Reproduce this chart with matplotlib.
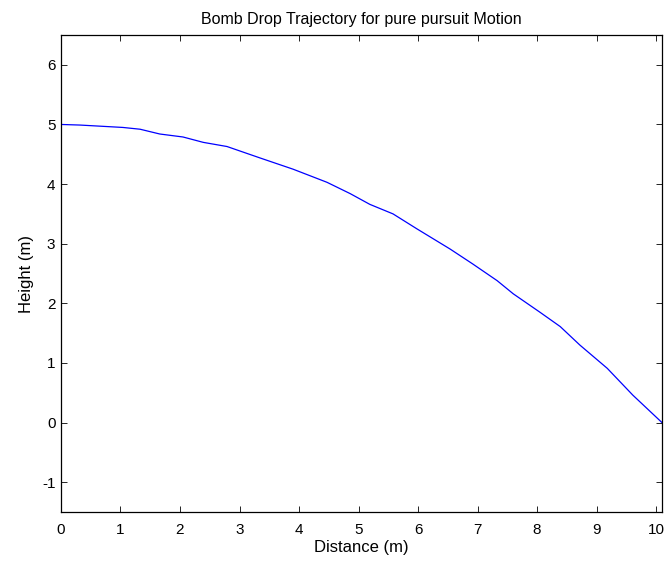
import matplotlib
matplotlib.use('Agg')
import matplotlib.pyplot as plt

# trajectory
distance = [0.0, 0.32, 1.04, 1.33, 1.66, 2.05, 2.39, 2.79, 3.34, 3.90, 4.47,
            4.86, 5.19, 5.58, 5.98, 6.54, 6.92, 7.33, 7.60, 8.05, 8.39,
            8.72, 9.18, 9.61, 10.1]
height = [5.0, 4.99, 4.95, 4.92, 4.84, 4.79, 4.70, 4.63, 4.44, 4.25, 4.03,
          3.84, 3.66, 3.50, 3.25, 2.91, 2.66, 2.38, 2.16, 1.85, 1.61,
          1.30, 0.91, 0.46, 0.0]

x_ticks = list(range(0, 11))
y_ticks = list(range(-1, 7))

plt.rc('font', family=['Liberation Sans', 'DejaVu Sans'], size=11)
plt.rc('axes', unicode_minus=False)
fig = plt.figure(figsize=(6.68, 5.65), dpi=100)
ax = fig.add_axes([0.0913, 0.0938, 0.8997, 0.8442])

ax.plot(distance, height, color='#0000ff', lw=0.9)

ax.set_xlim(0, 10.1)
ax.set_ylim(-1.5, 6.5)
ax.set_xticks(x_ticks)
ax.set_yticks(y_ticks)
ax.tick_params(direction='in', length=4, width=0.6, top=True, right=True,
               labelsize=11)
ax.tick_params(axis='x', pad=8)
ax.tick_params(axis='y', pad=4)
for s in ax.spines.values():
    s.set_linewidth(0.9)

ax.set_xlabel('Distance (m)', fontsize=12, labelpad=2)
ax.set_ylabel('Height (m)', fontsize=12, labelpad=6)
ax.set_title('Bomb Drop Trajectory for pure pursuit Motion', fontsize=11.5, pad=8)

fig.savefig('out.png', dpi=100)
